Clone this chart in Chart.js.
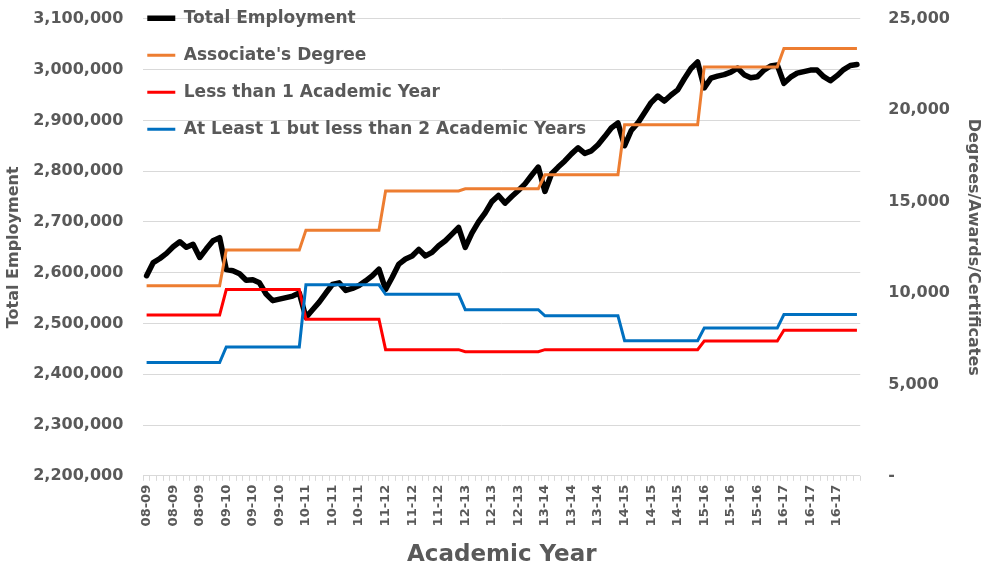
<!DOCTYPE html>
<html>
<head>
<meta charset="utf-8">
<title>Total Employment and Degrees/Awards/Certificates</title>
<script src="https://cdn.jsdelivr.net/npm/chart.js@4.4.1/dist/chart.umd.min.js"></script>
<style>
    html, body { margin: 0; padding: 0; background: #fff; }
    #wrap { width: 981px; height: 572px; }
</style>
</head>
<body>
<div id="wrap"><canvas id="chart"></canvas></div>
<script>
// Academic years, 12 monthly points each
const academicYears = ['08-09', '09-10', '10-11', '11-12', '12-13', '13-14', '14-15', '15-16', '16-17'];

// Total employment, monthly (left axis)
const totalEmployment = [
    2594000, 2620000, 2628000, 2638000, 2651000, 2661000, 2650000, 2656000, 2630000, 2647000, 2663000, 2669000,
    2606000, 2604000, 2598000, 2585000, 2586000, 2580000, 2558000, 2545000, 2548000, 2551000, 2554000, 2560000,
    2512000, 2527000, 2542000, 2560000, 2577000, 2580000, 2565000, 2569000, 2575000, 2584000, 2594000, 2607000,
    2567000, 2591000, 2617000, 2627000, 2633000, 2646000, 2633000, 2640000, 2653000, 2663000, 2676000, 2689000,
    2650000, 2678000, 2700000, 2718000, 2740000, 2752000, 2737000, 2750000, 2762000, 2775000, 2792000, 2808000,
    2760000, 2795000, 2808000, 2820000, 2834000, 2846000, 2835000, 2840000, 2852000, 2868000, 2885000, 2895000,
    2850000, 2880000, 2895000, 2915000, 2935000, 2948000, 2938000, 2950000, 2960000, 2982000, 3002000, 3015000,
    2964000, 2983000, 2987000, 2990000, 2995000, 3003000, 2990000, 2984000, 2986000, 2999000, 3007000, 3009000,
    2973000, 2985000, 2993000, 2996000, 2999000, 2999000, 2986000, 2978000, 2988000, 3000000, 3008000, 3010000
];

// Awards per academic year (right axis)
const associateDegree = [10400, 12350, 13440, 15580, 15700, 16470, 19200, 22370, 23380];
const lessThanOneYear = [8800, 10190, 8570, 6900, 6790, 6900, 6900, 7370, 7960];
const oneToTwoYears   = [6200, 7050, 10450, 9930, 9090, 8750, 7390, 8080, 8820];

const employmentTicks = [2200000, 2300000, 2400000, 2500000, 2600000, 2700000, 2800000, 2900000, 3000000, 3100000];
const awardTicks = [0, 5000, 10000, 15000, 20000, 25000];

const monthLabels = totalEmployment.map((_, i) => academicYears[Math.floor(i / 12)]);
const perMonth = yearly => monthLabels.map((_, i) => yearly[Math.floor(i / 12)]);

const GREY = '#595959';
const FONT = "'DejaVu Sans', sans-serif";

Chart.defaults.font.family = FONT;
Chart.defaults.font.weight = 'bold';
Chart.defaults.color = GREY;

// put the legend in the top-left corner of the plot, over the gridlines
const legendInside = {
    id: 'legendInside',
    afterLayout(chart) {
        chart.legend.left = chart.chartArea.left - 16;
        chart.legend.top = chart.chartArea.top - 29;
    }
};

new Chart(document.getElementById('chart'), {
    type: 'line',
    data: {
        labels: monthLabels,
        datasets: [{
            label: 'Total Employment',
            data: totalEmployment,
            yAxisID: 'y',
            borderColor: '#000000',
            backgroundColor: '#000000',
            borderWidth: 5.5,
            borderCapStyle: 'round',
            borderJoinStyle: 'round',
            order: 4
        }, {
            label: "Associate's Degree",
            data: perMonth(associateDegree),
            yAxisID: 'y1',
            borderColor: '#ED7D31',
            backgroundColor: '#ED7D31',
            borderWidth: 3,
            order: 3
        }, {
            label: 'Less than 1 Academic Year',
            data: perMonth(lessThanOneYear),
            yAxisID: 'y1',
            borderColor: '#FF0000',
            backgroundColor: '#FF0000',
            borderWidth: 3,
            order: 2
        }, {
            label: 'At Least 1 but less than 2 Academic Years',
            data: perMonth(oneToTwoYears),
            yAxisID: 'y1',
            borderColor: '#0070C0',
            backgroundColor: '#0070C0',
            borderWidth: 3,
            order: 1
        }]
    },
    options: {
        responsive: true,
        maintainAspectRatio: false,
        animation: false,
        elements: {
            point: { radius: 0, hoverRadius: 0 },
            line: { tension: 0 }
        },
        layout: { padding: { top: 8, left: 1, right: 0, bottom: 0 } },
        plugins: {
            tooltip: { enabled: false },
            legend: {
                position: 'chartArea',
                align: 'start',
                labels: {
                    usePointStyle: true,
                    pointStyle: 'line',
                    pointStyleWidth: 28,
                    padding: 20,
                    color: GREY,
                    font: { size: 17, weight: 'bold' },
                    sort: (a, b) => a.datasetIndex - b.datasetIndex
                }
            }
        },
        scales: {
            x: {
                offset: true,
                grid: {
                    offset: true,
                    drawOnChartArea: false,
                    drawTicks: true,
                    tickLength: 5,
                    color: '#d9d9d9'
                },
                border: { display: false },
                ticks: {
                    autoSkip: false,
                    maxRotation: 90,
                    minRotation: 90,
                    padding: 4,
                    font: { size: 13 },
                    callback(value, index) {
                        return index % 4 === 0 ? this.getLabelForValue(value) : '';
                    }
                },
                title: {
                    display: true,
                    text: 'Academic Year',
                    font: { size: 23, weight: 'bold' },
                    padding: { top: 11, bottom: 3 }
                }
            },
            y: {
                position: 'left',
                min: employmentTicks[0],
                max: employmentTicks[employmentTicks.length - 1],
                grid: { color: '#d9d9d9', drawTicks: true, tickLength: 18, tickColor: 'transparent' },
                border: { display: false },
                ticks: {
                    stepSize: employmentTicks[1] - employmentTicks[0],
                    padding: 2,
                    font: { size: 16, lineHeight: 2.1 },
                    callback: v => v.toLocaleString('en-US')
                },
                title: {
                    display: true,
                    text: 'Total Employment',
                    font: { size: 16, weight: 'bold' },
                    padding: { top: 3, bottom: 8 }
                }
            },
            y1: {
                position: 'right',
                min: awardTicks[0],
                max: awardTicks[awardTicks.length - 1],
                grid: { drawOnChartArea: false, drawTicks: true, tickLength: 26, tickColor: 'transparent' },
                border: { display: false },
                ticks: {
                    stepSize: awardTicks[1] - awardTicks[0],
                    padding: 2,
                    font: { size: 16 },
                    callback: v => v === 0 ? '-' : v.toLocaleString('en-US')
                },
                title: {
                    display: true,
                    text: 'Degrees/Awards/Certificates',
                    font: { size: 16, weight: 'bold', lineHeight: 1 },
                    padding: { top: 0, bottom: 13 }
                }
            }
        }
    },
    plugins: [legendInside]
});
</script>
</body>
</html>
